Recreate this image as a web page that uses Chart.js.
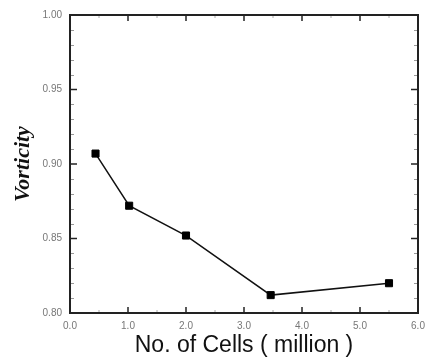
<!DOCTYPE html>
<html>
<head>
<meta charset="utf-8">
<script src="https://cdn.jsdelivr.net/npm/chart.js@4.4.0/dist/chart.umd.min.js"></script>
<style>
  html, body { margin: 0; padding: 0; background: #fff; }
  #wrap { width: 425px; height: 359px; }
</style>
</head>
<body>
<div id="wrap"><canvas id="vortChart"></canvas></div>
<script>
// ─── data ───
const cellCounts = [0.44, 1.02, 2.0, 3.46, 5.5];          // million cells
const vorticity  = [0.907, 0.872, 0.852, 0.812, 0.820];
const xTicks = [0, 1, 2, 3, 4, 5, 6];
const yTicks = [0.80, 0.85, 0.90, 0.95, 1.00];
const xMinorStep = 0.5;
const yMinorStep = 0.01;

// ticks point into the plot on all four sides, minor ones are shorter and lighter
const frameTicks = {
  id: 'frameTicks',
  afterDraw(chart) {
    const { ctx, chartArea: a, scales } = chart;
    const xs = scales.x, ys = scales.y;
    ctx.save();

    const tick = (x1, y1, x2, y2, color, w) => {
      ctx.strokeStyle = color; ctx.lineWidth = w;
      ctx.beginPath(); ctx.moveTo(x1, y1); ctx.lineTo(x2, y2); ctx.stroke();
    };

    // minor ticks
    for (let v = xTicks[0]; v <= xTicks[xTicks.length - 1] + 1e-9; v += xMinorStep) {
      if (xTicks.some(t => Math.abs(t - v) < 1e-9)) continue;
      const px = xs.getPixelForValue(v);
      tick(px, a.bottom, px, a.bottom - 3, '#aaa', 1);
      tick(px, a.top, px, a.top + 3, '#aaa', 1);
    }
    for (let v = yTicks[0]; v <= yTicks[yTicks.length - 1] + 1e-9; v += yMinorStep) {
      if (yTicks.some(t => Math.abs(t - v) < 1e-9)) continue;
      const py = Math.round(ys.getPixelForValue(v)) + 0.5;
      tick(a.left, py, a.left + 4, py, '#999', 1);
      tick(a.right, py, a.right - 4, py, '#999', 1);
    }
    // major ticks
    xTicks.forEach(v => {
      const px = xs.getPixelForValue(v);
      tick(px, a.bottom, px, a.bottom - 6, '#222', 1.5);
      tick(px, a.top, px, a.top + 6, '#222', 1.5);
    });
    yTicks.forEach(v => {
      const py = ys.getPixelForValue(v);
      tick(a.left, py, a.left + 7, py, '#222', 1.5);
      tick(a.right, py, a.right - 7, py, '#222', 1.5);
    });

    // frame
    ctx.strokeStyle = '#222';
    ctx.lineWidth = 2;
    ctx.strokeRect(a.left, a.top, a.right - a.left, a.bottom - a.top);
    ctx.restore();
  }
};

const tickFont = { family: "'Liberation Sans', Arial, sans-serif", size: 10 };

new Chart(document.getElementById('vortChart'), {
  type: 'scatter',
  data: {
    datasets: [{
      data: cellCounts.map((x, i) => ({ x, y: vorticity[i] })),
      showLine: true,
      borderColor: '#111',
      borderWidth: 1.5,
      pointStyle: 'rect',
      pointRadius: 5,
      pointBackgroundColor: '#000',
      pointBorderColor: '#000',
      pointBorderWidth: 1,
    }]
  },
  plugins: [frameTicks],
  options: {
    responsive: true,
    maintainAspectRatio: false,
    animation: false,
    layout: { padding: { top: 15, right: 7, left: 0, bottom: 0 } },
    plugins: { legend: { display: false }, tooltip: { enabled: false } },
    scales: {
      x: {
        type: 'linear',
        min: 0, max: 6,
        afterBuildTicks: (s) => { s.ticks = xTicks.map(v => ({ value: v })); },
        ticks: {
          color: '#777', font: tickFont, padding: 7, maxRotation: 0,
          callback: (v) => Number(v).toFixed(1),
        },
        grid: { display: false, drawTicks: false },
        border: { display: false },
        title: {
          display: true,
          text: 'No. of Cells ( million )',
          color: '#111',
          font: { family: "'Liberation Sans', Arial, sans-serif", size: 23 },
          padding: { top: 0, bottom: 0 },
        },
        afterFit: (s) => { s.height = 46; s.paddingLeft = 0; s.paddingRight = 0; },
      },
      y: {
        min: 0.8, max: 1.0,
        afterBuildTicks: (s) => { s.ticks = yTicks.map(v => ({ value: v })); },
        ticks: {
          color: '#777', font: tickFont, padding: 8,
          callback: (v) => Number(v).toFixed(2),
        },
        grid: { display: false, drawTicks: false },
        border: { display: false },
        title: {
          display: true,
          text: 'Vorticity',
          color: '#111',
          font: { family: "'Liberation Serif', 'Times New Roman', serif", size: 22, style: 'italic', weight: 'bold' },
          padding: { top: 10, bottom: 0 },
        },
        afterFit: (s) => { s.width = 70; s.paddingTop = 0; s.paddingBottom = 0; },
      }
    }
  }
});
</script>
</body>
</html>
